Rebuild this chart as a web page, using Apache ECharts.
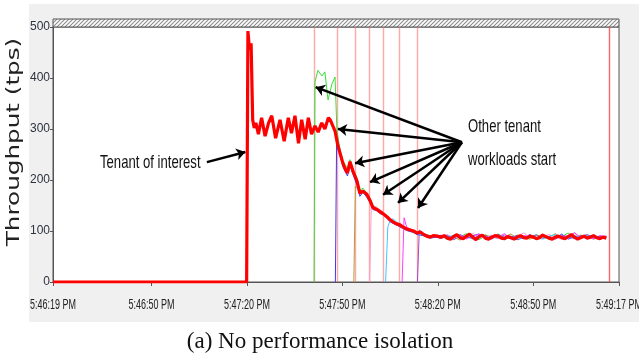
<!DOCTYPE html>
<html>
<head>
<meta charset="utf-8">
<script src="https://cdn.jsdelivr.net/npm/echarts@6/dist/echarts.min.js"></script>
<style>
  html, body { margin: 0; padding: 0; background: #fff; }
  #chart { width: 639px; height: 358px; }
</style>
</head>
<body>
<div id="chart"></div>
<script>
// seconds after 5:46:19 PM
const xTickSec = [0, 31, 61, 91, 121, 151, 178]
const xTickText = ['5:46:19 PM', '5:46:50 PM', '5:47:20 PM', '5:47:50 PM', '5:48:20 PM', '5:48:50 PM', '5:49:17 PM']

// tenant of interest (red)
const redTime = [0, 60.9, 61.3, 61.8, 62.3, 62.8, 63.3, 63.8, 64.6, 65.6, 66.7, 67.8, 68.8, 70.0, 71.4, 72.7, 74.0, 75.0, 76.1, 77.2,
  78.2, 79.3, 80.3, 81.3, 82.4, 83.4, 84.5, 85.5, 86.6, 87.2, 88.0, 88.7, 89.5, 90.3, 91.2, 92.0, 92.6, 93.4, 94.3, 95.6,
  96.5, 97.5, 98.7, 99.7, 100.6, 101.9, 102.8, 103.8, 105.0, 106.0, 106.9, 108.0, 109.1, 110.0, 111.2, 112.3, 113.4, 114.5, 115.5, 116.4,
  117.5, 118.6, 119.7, 120.8]
const redTps = [0, 0, 492, 455, 468, 318, 302, 312, 290, 322, 286, 312, 326, 282, 318, 276, 322, 292, 326, 272,
  318, 280, 322, 290, 306, 294, 312, 300, 322, 318, 306, 296, 270, 252, 232, 220, 214, 236, 218, 198,
  174, 178, 172, 160, 146, 142, 138, 134, 128, 122, 118, 114, 112, 108, 104, 102, 100, 96, 98, 94,
  90, 88, 91, 90]
const redTailStart = 122 // one value per second
const redTail = [88, 91, 86, 84, 89, 93, 87, 85, 90, 94, 88, 83, 89, 92, 86, 84, 88, 91, 90, 86,
  85, 89, 87, 84, 88, 91, 87, 86, 90, 88, 85, 87, 92, 89, 86, 84, 88, 90, 87, 85,
  89, 93, 88, 84, 87, 90, 86, 88, 91, 87, 85, 88, 86]

// other tenants: [sec, tps] while starting, then one value every 2 s
const tailStart = 122
const greenRamp = [[82.1, 0], [82.4, 392], [83.3, 415], [84.6, 404], [85.5, 412], [86.5, 357], [87.7, 388], [88.7, 402], [89.3, 296], [90.3, 258],
  [91.2, 238], [92.6, 222], [93.4, 240], [94.3, 222], [95.6, 204], [96.5, 180], [97.5, 184], [98.7, 174], [99.7, 164], [100.6, 150],
  [101.9, 146], [102.8, 141], [103.8, 136], [105, 131], [106, 125], [106.9, 120], [108, 117], [109.1, 114], [110, 110], [111.2, 106],
  [112.3, 104], [113.4, 101], [114.5, 98], [116.4, 95], [118.6, 91], [120.8, 92]]
const greenTail = [90, 84, 92, 88, 95, 86, 83, 91, 89, 94, 87, 85, 92, 90, 86, 93, 88, 84, 91, 89, 96, 87, 85, 90, 92, 86, 89]

const blueRamp = [[88.8, 0], [89.2, 282], [90.3, 248], [91.2, 226], [92.6, 208], [93.4, 228], [94.3, 212], [95.6, 190], [96.5, 168], [97.5, 176],
  [98.7, 166], [99.7, 156], [100.6, 142], [101.9, 140], [102.8, 134], [103.8, 132], [105, 125], [106, 118], [106.9, 115], [108, 112],
  [109.1, 108], [110, 105], [111.2, 101], [112.3, 99], [113.4, 97], [114.5, 93], [116.4, 91], [118.6, 86], [120.8, 88]]
const blueTail = [86, 92, 83, 90, 87, 91, 94, 84, 88, 86, 92, 89, 83, 87, 93, 85, 90, 88, 86, 94, 84, 89, 91, 87, 85, 90, 87]

const oliveRamp = [[94.6, 0], [95.1, 188], [96.5, 178], [97.5, 180], [98.7, 170], [99.7, 162], [100.6, 150], [101.9, 144], [102.8, 140], [103.8, 136],
  [105, 129], [106, 123], [106.9, 118], [108, 116], [109.1, 111], [110, 108], [111.2, 104], [112.3, 102], [113.4, 99], [114.5, 96],
  [116.4, 93], [118.6, 89], [120.8, 90]]
const oliveTail = [91, 87, 89, 82, 92, 88, 86, 93, 85, 90, 89, 94, 86, 88, 84, 90, 92, 87, 95, 85, 88, 86, 92, 89, 84, 88, 90]

const pinkRamp = [[99.6, 0], [100.1, 150], [100.6, 148], [101.9, 146], [102.8, 142], [103.8, 138], [105, 130], [106, 126], [106.9, 121], [108, 117],
  [109.1, 113], [110, 109], [111.2, 105], [112.3, 103], [113.4, 100], [114.5, 97], [116.4, 93], [118.6, 90], [120.8, 91]]
const pinkTail = [89, 93, 86, 90, 84, 95, 88, 87, 92, 85, 91, 87, 90, 96, 88, 85, 89, 93, 87, 84, 91, 95, 88, 86, 90, 87, 91]

const cyanRamp = [[104.6, 0], [105.3, 108], [106, 120], [106.9, 124], [108, 118], [109.1, 113], [110, 109], [111.2, 105], [112.3, 102], [113.4, 99],
  [114.5, 96], [116.4, 92], [118.6, 88], [120.8, 90]]
const cyanTail = [87, 89, 91, 86, 90, 84, 92, 89, 86, 91, 83, 90, 88, 85, 92, 87, 84, 90, 93, 88, 86, 91, 87, 92, 88, 85, 88]

const magentaRamp = [[109.8, 0], [110.4, 126], [111.2, 108], [112.3, 104], [113.4, 100], [114.5, 97], [116.4, 94], [118.6, 90], [120.8, 89]]
const magentaTail = [92, 86, 88, 91, 85, 89, 94, 86, 90, 88, 95, 84, 87, 91, 89, 86, 94, 85, 88, 90, 87, 97, 86, 88, 85, 91, 89]

const purpleRamp = [[114.6, 0], [115.2, 102], [116.4, 95], [118.6, 90], [120.8, 88]]
const purpleTail = [85, 90, 87, 93, 88, 86, 90, 91, 84, 93, 87, 88, 91, 86, 90, 92, 86, 89, 84, 92, 89, 85, 90, 93, 87, 89, 86]

// thin red event lines (sec)
const markerSec = [82.1, 89.5, 94.9, 99.6, 103.8, 108.8, 114.4, 174.8]

// annotation arrows [sec, tps]
const otherArrowFrom = [128.6, 274]
const otherArrowTips = [[82.6, 382], [89.6, 300], [95, 233], [99.7, 196], [103.8, 171], [108.5, 155], [114.8, 145]]
const tenantArrowFrom = [48.4, 235]
const tenantArrowTip = [60.5, 255]

const sans = "'Liberation Sans', Arial, sans-serif"

// hatched strip on top of the plot
const hatch = document.createElement('canvas')
hatch.width = 4
hatch.height = 4
const hc = hatch.getContext('2d')
hc.fillStyle = '#fff'
hc.fillRect(0, 0, 4, 4)
hc.strokeStyle = '#8c8c8c'
hc.lineWidth = 1.1
hc.beginPath()
hc.moveTo(-1, 1); hc.lineTo(1, -1)
hc.moveTo(0, 4); hc.lineTo(4, 0)
hc.moveTo(3, 5); hc.lineTo(5, 3)
hc.stroke()

const thin = (name, color, ramp, tail) => ({
  type: 'line',
  name: name,
  symbol: 'none',
  z: 3,
  lineStyle: { color: color, width: 1 },
  data: ramp.concat(tail.map((v, i) => [tailStart + i * 2, v]))
})

// condensed look for the annotation text
const note = (text, x, y) => ({
  type: 'text', x: x, y: y, scaleX: 0.69,
  style: { text: text, fill: '#111', font: '19px ' + sans, align: 'left', verticalAlign: 'middle' }
})

const redData = redTime.map((t, i) => [t, redTps[i]]).concat(redTail.map((v, i) => [redTailStart + i, v]))

const graphics = [
  { type: 'rect', shape: { x: 0, y: 0, width: 29, height: 358 }, style: { fill: '#fff' }, silent: true },
  { type: 'rect', shape: { x: 0, y: 0, width: 639, height: 4 }, style: { fill: '#fff' }, silent: true },
  { type: 'rect', shape: { x: 0, y: 322, width: 639, height: 36 }, style: { fill: '#fff' }, silent: true },
  {
    type: 'rect', shape: { x: 53, y: 19, width: 566, height: 8 },
    style: { fill: { image: hatch, repeat: 'repeat' }, stroke: '#555', lineWidth: 1 }, silent: true
  },
  {
    type: 'text', x: 15, y: 142, rotation: Math.PI / 2, scaleX: 1.45,
    style: { text: 'Throughput (tps)', fill: '#222', font: '17px "DejaVu Sans"', align: 'center', verticalAlign: 'middle' }
  },
  note('Tenant of interest', 100, 163),
  note('Other tenant', 468, 127),
  note('workloads start', 468, 160),
  {
    type: 'text', x: 320, y: 342,
    style: { text: '(a) No performance isolation', fill: '#111', font: '23px "Liberation Serif"', align: 'center', verticalAlign: 'middle' }
  }
]

const chart = echarts.init(document.getElementById('chart'))
chart.setOption({
  animation: false,
  backgroundColor: '#f0f0f0',
  grid: {
    left: 53, right: 20, top: 27, bottom: 76,
    show: true,
    backgroundColor: '#fff',
    borderColor: '#555',
    borderWidth: 1,
    outerBoundsMode: 'none'
  },
  xAxis: {
    type: 'value',
    min: 0,
    max: 178,
    splitLine: { show: false },
    axisLine: { lineStyle: { color: '#555', width: 1 } },
    axisTick: { show: true, length: 4, customValues: xTickSec, lineStyle: { color: '#555' } },
    // tick texts are drawn below as condensed text at the axis positions
    axisLabel: { show: false }
  },
  yAxis: {
    type: 'value',
    min: 0,
    max: 500,
    interval: 100,
    splitLine: { show: false },
    axisLine: { show: true, lineStyle: { color: '#555', width: 1 } },
    axisTick: { show: true, length: 3, lineStyle: { color: '#555' } },
    axisLabel: { margin: 3, color: '#2e3240', fontSize: 12, fontFamily: sans }
  },
  graphic: graphics,
  series: [
    {
      type: 'line',
      name: 'events',
      symbol: 'none',
      z: 1,
      data: [],
      markLine: {
        silent: true,
        z: 1,
        symbol: ['none', 'none'],
        label: { show: false },
        emphasis: { disabled: true },
        lineStyle: { color: '#ff6f6f', width: 1.4, type: 'solid', opacity: 0.6 },
        data: markerSec.map((s, i) => i === markerSec.length - 1
          ? { xAxis: s, lineStyle: { color: '#ff4a4a', width: 1.4, type: 'solid', opacity: 0.85 } }
          : { xAxis: s })
      }
    },
    thin('green', '#3bdc3b', greenRamp, greenTail),
    thin('blue', '#3a3af5', blueRamp, blueTail),
    thin('olive', '#b39a3c', oliveRamp, oliveTail),
    thin('pink', '#ff9ccc', pinkRamp, pinkTail),
    thin('cyan', '#3cc8ff', cyanRamp, cyanTail),
    thin('magenta', '#ff3cff', magentaRamp, magentaTail),
    thin('purple', '#9a4ccf', purpleRamp, purpleTail),
    {
      type: 'line',
      name: 'tenant of interest',
      symbol: 'none',
      z: 4,
      lineStyle: { color: '#ff0000', width: 3.2 },
      data: redData,
      markLine: {
        silent: true,
        z: 10,
        symbol: ['none', 'arrow'],
        symbolSize: 9,
        label: { show: false },
        itemStyle: { color: '#000' },
        lineStyle: { color: '#000', width: 2.5, type: 'solid' },
        data: otherArrowTips.map(tip => [{ coord: otherArrowFrom }, { coord: tip }])
          .concat([[{ coord: tenantArrowFrom }, { coord: tenantArrowTip }]])
      }
    }
  ]
})

// x tick texts placed through the axis scale
const xLabels = xTickSec.map((s, i) => {
  const p = chart.convertToPixel({ gridIndex: 0 }, [s, 0])
  return {
    type: 'text', x: p[0], y: p[1] + 23, scaleX: 0.6,
    style: { text: xTickText[i], fill: '#222', font: '15px ' + sans, align: 'center', verticalAlign: 'middle' }
  }
})
chart.setOption({ graphic: graphics.concat(xLabels) })
</script>
</body>
</html>
